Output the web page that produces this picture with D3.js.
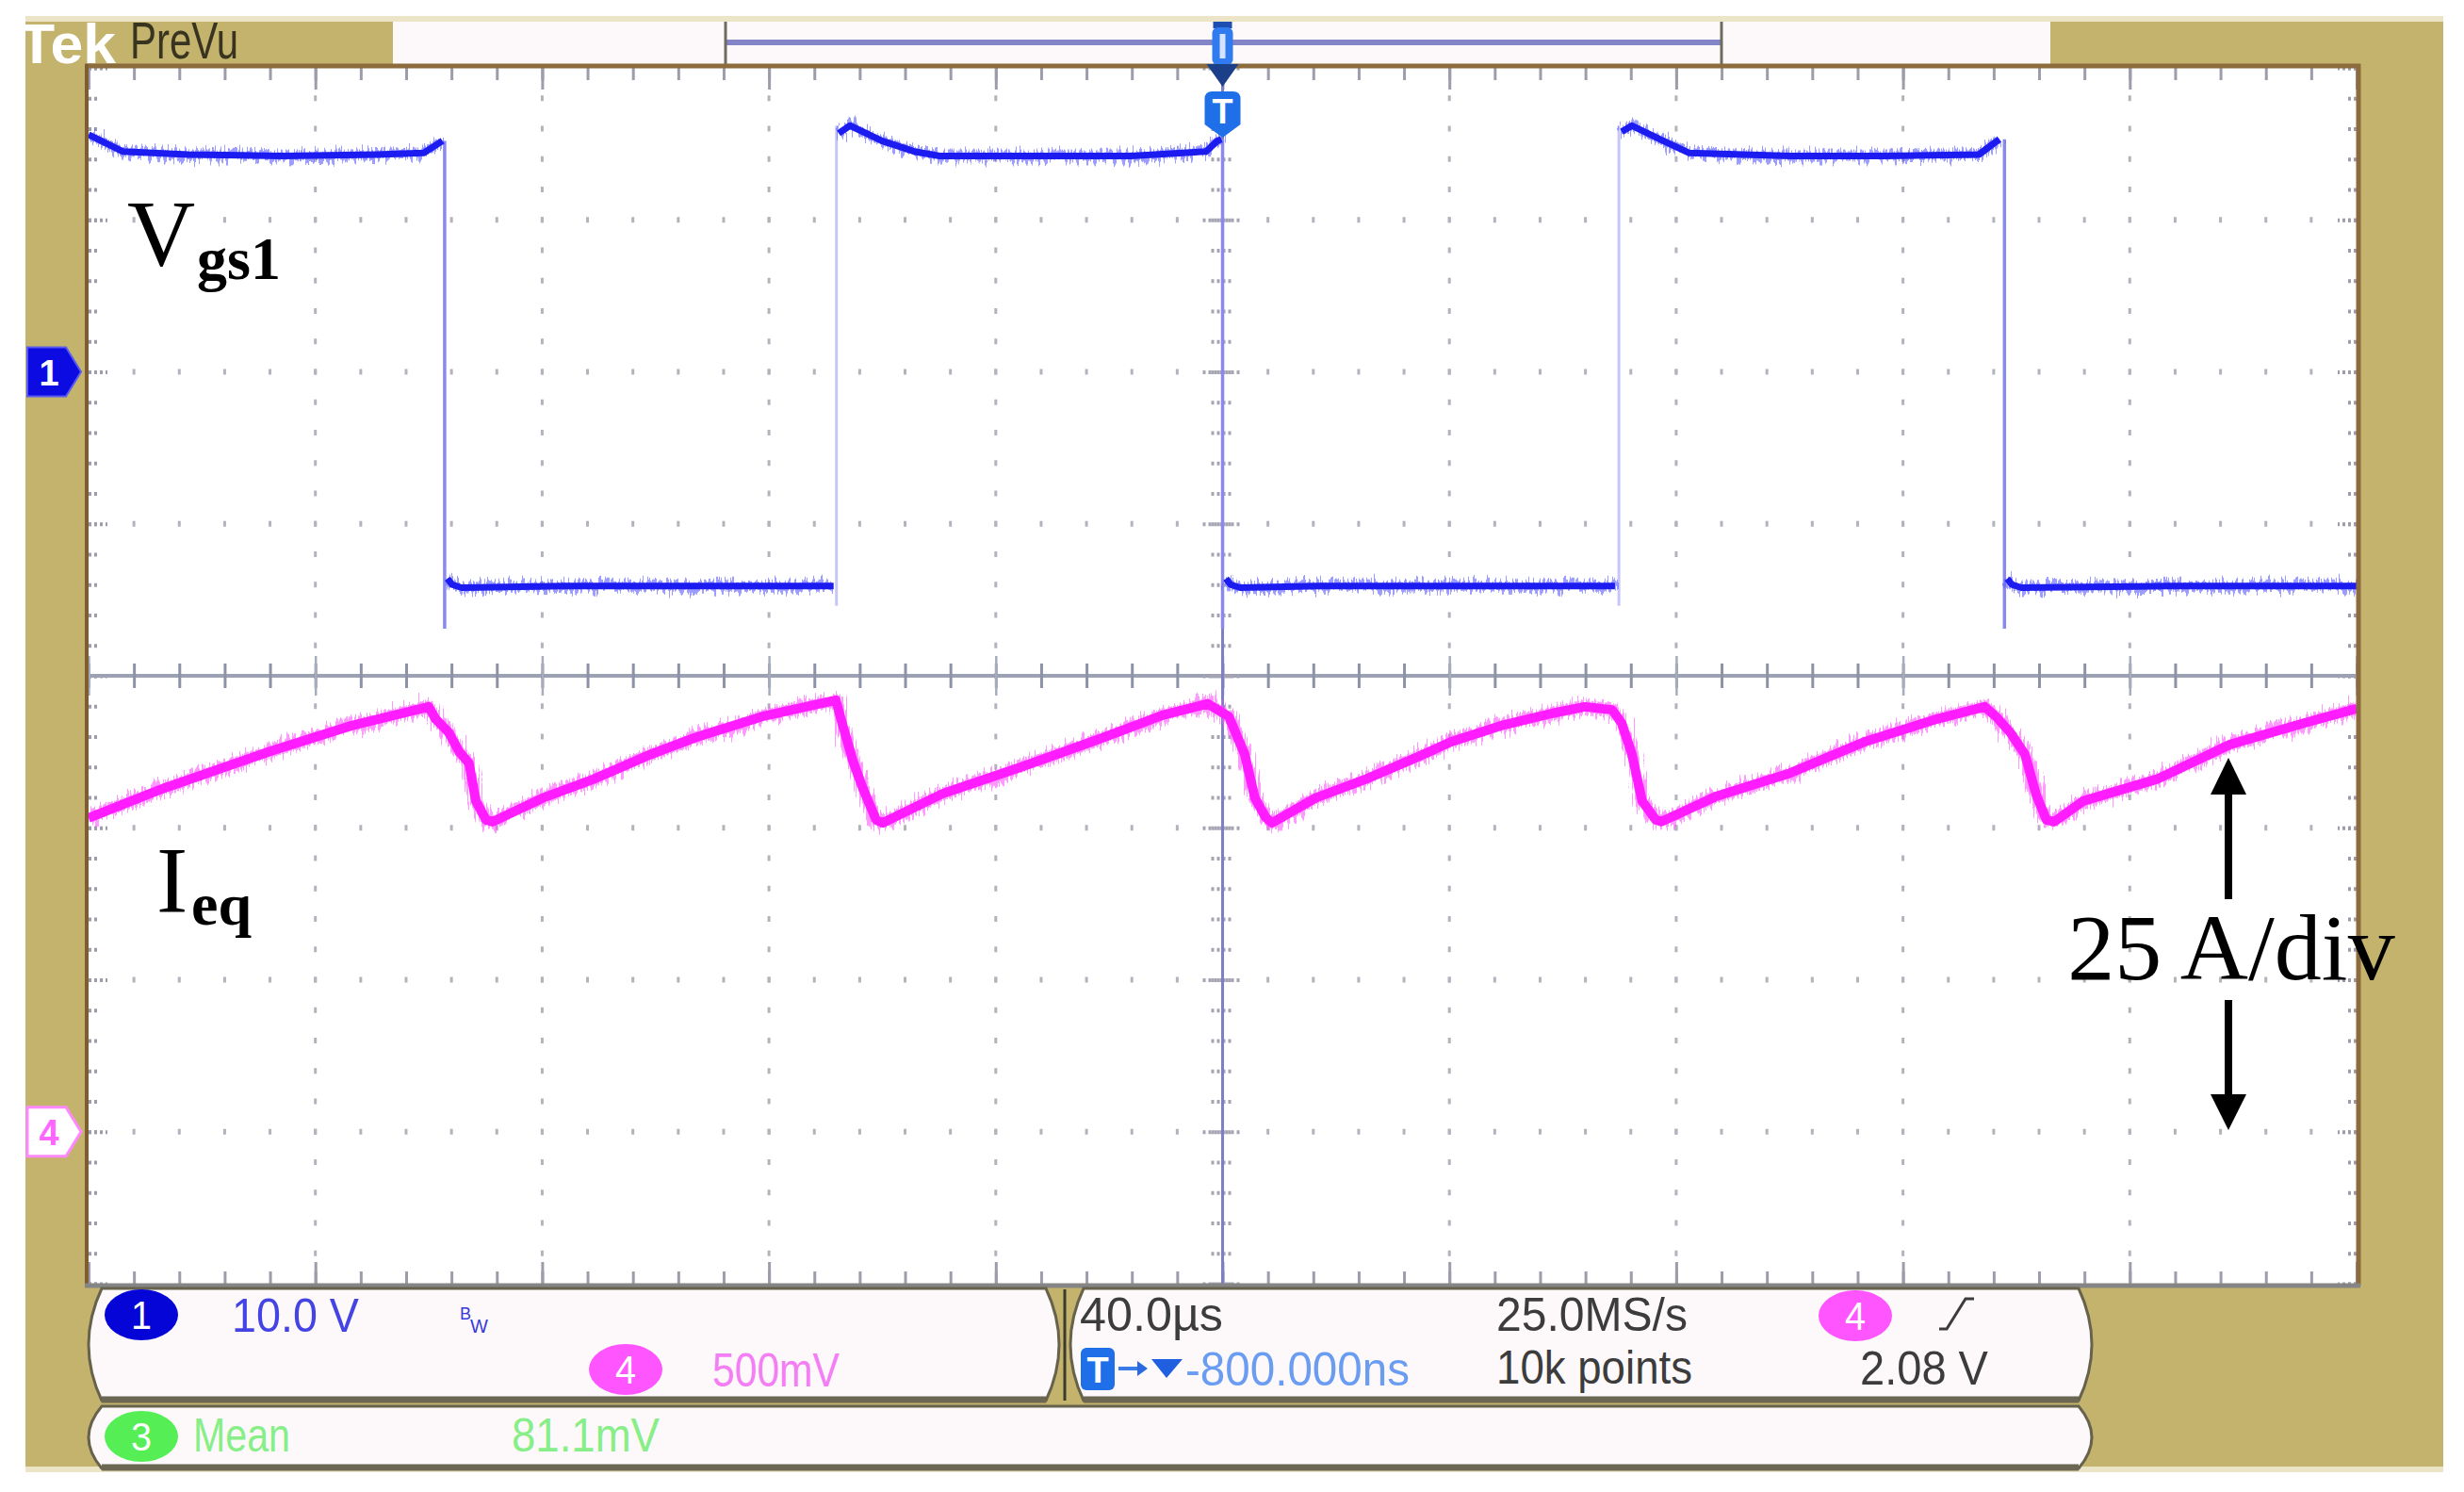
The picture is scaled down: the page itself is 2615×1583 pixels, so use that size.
<!DOCTYPE html>
<html><head><meta charset="utf-8">
<script src="https://cdn.jsdelivr.net/npm/d3@7"></script>
<style>body{margin:0;background:#fff}svg{display:block}</style>
</head><body><svg id="c" width="2615" height="1583"></svg>
<script>
// ---------------- data ----------------
const timePerDiv = 40;   // µs / div
const ch1PerDiv = 10;    // V / div
const ch4PerDiv = 25;    // A / div
const ch1Offset = 2;     // div
const ch4Offset = -3;    // div

// Vgs1 plateaus (µs, V); null = break at switching edge
const vgsTime  = [-200,-194,-182.4,-165.8,-149.2,-140.9,-138.4,-137.6, null,
                  -136.7,-135.9,-134.2,-115.9,-99.3,-82.7,-68.6, null,
                  -67.7,-65.7,-60.1,-54.4,-49.9,-32.8,-16.2,-2.9,-0.9,-0.2, null,
                  0.6,1.4,3.1,17.0,33.7,50.3,69.2, null,
                  70.4,72.2,77.7,82.3,100.1,116.7,133.4,135.9,137.0, null,
                  138.4,139.2,140.9,166.6,183.2,200];
const vgsVolts = [15.6,14.5,14.3,14.2,14.3,14.4,15.0,15.2, null,
                  -13.6,-14.0,-14.2,-14.1,-14.1,-14.1,-14.1, null,
                  15.7,16.2,15.2,14.5,14.2,14.2,14.2,14.5,15.2,15.3, null,
                  -13.6,-14.0,-14.2,-14.1,-14.1,-14.1,-14.1, null,
                  15.8,16.2,15.2,14.4,14.2,14.2,14.3,15.0,15.3, null,
                  -13.6,-14.0,-14.2,-14.1,-14.1,-14.1];
// Vgs1 switching edges
const edgeTime = [-137.2, -68.1, 0, 69.9, 137.9];
const edgeLow  = [-16.9, -15.4, -16.9, -15.4, -16.9];
const edgeHigh = [15.2, 16.2, 15.3, 16.2, 15.3];
const edgeDir  = ['fall','rise','fall','rise','fall'];

// Ieq (µs, A)
const ieqTime = [-200,-187.0,-167.9,-153.6,-140.0,-138.8,-136.5,-134.7,-132.9,-131.7,-129.9,-128.7,
  -119.9,-110.9,-100.8,-93.1,-81.2,-73.5,-68.2,-67.1,-65.2,-63.4,-61.1,-59.9,
  -49.4,-35.5,-21.7,-10.6,-2.6,1.1,3.9,5.7,7.6,8.7,
  16.4,25.3,34.3,40.2,49.1,58.0,63.9,68.7,70.4,72.2,74.0,76.4,77.4,
  86.9,100.1,113.1,126.0,134.4,136.4,138.9,141.5,143.5,145.3,146.7,
  151.8,164.8,177.7,190.7,200];
const ieqAmps = [51.6,56.4,62.6,66.8,69.9,67.9,65.7,62.6,60.6,54.4,51.3,51.0,
  54.9,58.0,62.1,64.8,68.3,69.9,71.0,67.2,61.0,56.4,51.3,50.8,
  55.6,60.0,64.6,68.5,70.4,68.3,62.1,54.9,51.7,50.8,
  54.9,58.0,61.6,64.1,66.8,68.8,69.9,69.4,67.2,62.1,54.4,51.3,51.0,
  55.1,59.0,64.1,67.9,69.9,68.3,65.7,62.1,55.4,51.3,51.0,
  54.4,58.0,63.7,67.2,69.6];

// texts
const headerTexts = ['Tek', 'PreVu'];
const traceLabels = ['V', 'gs1', 'I', 'eq'];
const scaleLabel = '25 A/div';
const ch1Readout = ['1', '10.0 V'];
const ch4Readout = ['4', '500mV'];
const measReadout = ['3', 'Mean', '81.1mV'];
const timeReadout = ['40.0µs', '25.0MS/s', '-800.000ns', '10k points'];
const trigReadout = ['4', '2.08 V'];

// ---------------- layout ----------------
const svg = d3.select('#c');
const P = {l:94, r:2501, t:72, b:1362};
const SANS = "'Liberation Sans', Arial, sans-serif";
const SERIF = "'Liberation Serif', 'Times New Roman', serif";

const x = d3.scaleLinear().domain([-5*timePerDiv, 5*timePerDiv]).range([P.l, P.r]);
const yDiv = d3.scaleLinear().domain([-4, 4]).range([P.b, P.t]);
const yCh1 = d3.scaleLinear().domain([(-4-ch1Offset)*ch1PerDiv, (4-ch1Offset)*ch1PerDiv]).range([P.b, P.t]);
const yCh4 = d3.scaleLinear().domain([(-4-ch4Offset)*ch4PerDiv, (4-ch4Offset)*ch4PerDiv]).range([P.b, P.t]);

function txt(g, xx, yy, s, o) {
  const t = g.append('text').attr('x', xx).attr('y', yy).text(s)
    .attr('font-family', o.family || SANS).attr('font-size', o.size)
    .attr('fill', o.fill || '#000');
  if (o.weight) t.attr('font-weight', o.weight);
  if (o.anchor) t.attr('text-anchor', o.anchor);
  if (o.len) t.attr('textLength', o.len).attr('lengthAdjust', 'spacingAndGlyphs');
  return t;
}

// outer tan frame
svg.append('rect').attr('x',27).attr('y',18).attr('width',2566).attr('height',1543).attr('fill','#c4b36d');
svg.append('rect').attr('x',27).attr('y',17).attr('width',2566).attr('height',6).attr('fill','#ece4c6');
svg.append('rect').attr('x',27).attr('y',1556).attr('width',2566).attr('height',6).attr('fill','#ece4c6');

// defs
const defs = svg.append('defs');
defs.append('clipPath').attr('id','tanclip').append('rect').attr('x',27).attr('y',18).attr('width',400).attr('height',60);
defs.append('clipPath').attr('id','plotclip').append('rect').attr('x',P.l).attr('y',P.t).attr('width',P.r-P.l).attr('height',P.b-P.t);
const fz = defs.append('filter').attr('id','fuzz').attr('x','-2%').attr('y','-30%').attr('width','104%').attr('height','160%');
fz.append('feTurbulence').attr('type','fractalNoise').attr('baseFrequency','0.5 0.02').attr('numOctaves',2).attr('seed',3).attr('result','n');
fz.append('feDisplacementMap').attr('in','SourceGraphic').attr('in2','n').attr('scale',24).attr('xChannelSelector','R').attr('yChannelSelector','G');

// header
txt(svg.append('g').attr('clip-path','url(#tanclip)'), 20, 67, headerTexts[0], {size:60, weight:'bold', fill:'#ffffff', len:103});
txt(svg, 138, 62, headerTexts[1], {size:56, fill:'#39341f', len:115});
svg.append('rect').attr('x',417).attr('y',23).attr('width',1759).attr('height',46).attr('fill','#fdf9fb');
svg.append('line').attr('x1',770).attr('x2',1827).attr('y1',45).attr('y2',45).attr('stroke','#8484c8').attr('stroke-width',6);
[770,1827].forEach(bx => svg.append('line').attr('x1',bx).attr('x2',bx).attr('y1',23).attr('y2',69).attr('stroke','#6d6c5e').attr('stroke-width',3));

// plot area
svg.append('rect').attr('x',P.l).attr('y',P.t).attr('width',P.r-P.l).attr('height',P.b-P.t).attr('fill','#ffffff');

// grid dots
const grid = svg.append('g');
const minorT = d3.range(-5*timePerDiv, 5*timePerDiv + 0.01, timePerDiv/5);
const minorD = d3.range(-4, 4.001, 0.2);
const majorT = d3.range(-4*timePerDiv, 4*timePerDiv + 0.01, timePerDiv).filter(v => Math.abs(v) > 1e-6);
const majorD = d3.range(-3, 3.001, 1).filter(v => Math.abs(v) > 1e-6);
const dots = [];
majorT.forEach(t => minorD.slice(1,-1).forEach(d => dots.push([x(t), yDiv(d)])));
majorD.forEach(d => minorT.slice(1,-1).forEach(t => dots.push([x(t), yDiv(d)])));
grid.selectAll('rect.dot').data(dots).enter().append('rect').attr('class','dot')
  .attr('x', d => d[0]-1.5).attr('y', d => d[1]-3).attr('width',3).attr('height',6).attr('fill','#b3b3bd');

// edge ticks via axes
function styleAxis(g, color, w, dash) {
  g.select('.domain').remove();
  g.selectAll('line').attr('stroke', color).attr('stroke-width', w);
  if (dash) g.selectAll('line').attr('stroke-dasharray', dash);
  g.selectAll('text').remove();
}
const tickCol = '#9c9cab';
const majorTall = d3.range(-5*timePerDiv, 5*timePerDiv + 0.01, timePerDiv);
const majorDall = d3.range(-4, 4.001, 1);
svg.append('g').attr('transform',`translate(0,${P.t})`).call(d3.axisBottom(x).tickValues(minorT).tickSize(13).tickFormat('')).call(styleAxis, tickCol, 3);
svg.append('g').attr('transform',`translate(0,${P.t})`).call(d3.axisBottom(x).tickValues(majorTall).tickSize(23).tickFormat('')).call(styleAxis, tickCol, 3);
svg.append('g').attr('transform',`translate(0,${P.b})`).call(d3.axisTop(x).tickValues(minorT).tickSize(13).tickFormat('')).call(styleAxis, tickCol, 3);
svg.append('g').attr('transform',`translate(0,${P.b})`).call(d3.axisTop(x).tickValues(majorTall).tickSize(23).tickFormat('')).call(styleAxis, tickCol, 3);
svg.append('g').attr('transform',`translate(${P.l},0)`).call(d3.axisRight(yDiv).tickValues(minorD).tickSize(11).tickFormat('')).call(styleAxis, tickCol, 4, '3,3');
svg.append('g').attr('transform',`translate(${P.l},0)`).call(d3.axisRight(yDiv).tickValues(majorDall).tickSize(20).tickFormat('')).call(styleAxis, tickCol, 4, '3,3');
svg.append('g').attr('transform',`translate(${P.r},0)`).call(d3.axisLeft(yDiv).tickValues(minorD).tickSize(11).tickFormat('')).call(styleAxis, tickCol, 4, '3,3');
svg.append('g').attr('transform',`translate(${P.r},0)`).call(d3.axisLeft(yDiv).tickValues(majorDall).tickSize(20).tickFormat('')).call(styleAxis, tickCol, 4, '3,3');

// center horizontal line with ticks
svg.append('line').attr('x1',P.l).attr('x2',P.r).attr('y1',yDiv(0)).attr('y2',yDiv(0)).attr('stroke','#9ca1b3').attr('stroke-width',4);
svg.append('g').attr('transform',`translate(0,${yDiv(0)-13})`).call(d3.axisBottom(x).tickValues(minorT).tickSize(26).tickFormat('')).call(styleAxis, '#8d92a6', 3);
svg.append('g').attr('transform',`translate(0,${yDiv(0)-21})`).call(d3.axisBottom(x).tickValues(majorTall).tickSize(42).tickFormat('')).call(styleAxis, '#a8adbd', 2.5);
// center vertical ticks
svg.append('g').attr('transform',`translate(${x(0)-12},0)`).call(d3.axisRight(yDiv).tickValues(minorD).tickSize(24).tickFormat('')).call(styleAxis, '#a4a4b2', 4, '3,3');
svg.append('g').attr('transform',`translate(${x(0)-21},0)`).call(d3.axisRight(yDiv).tickValues(majorDall).tickSize(42).tickFormat('')).call(styleAxis, '#a4a4b2', 4, '3,3');

// trigger position line
svg.append('line').attr('x1',x(0)).attr('x2',x(0)).attr('y1',P.t).attr('y2',P.b).attr('stroke','#7f7fc4').attr('stroke-width',3);

// traces
const tr = svg.append('g').attr('clip-path','url(#plotclip)');
const vgsPts = vgsTime.map((t,i) => [t, vgsVolts[i]]);
const vLine = d3.line().defined(d => d[0] !== null).x(d => x(d[0])).y(d => yCh1(d[1]));
edgeTime.forEach((t,i) => {
  tr.append('line').attr('x1',x(t)).attr('x2',x(t)).attr('y1',yCh1(edgeHigh[i])).attr('y2',yCh1(edgeLow[i]))
    .attr('stroke', edgeDir[i]==='fall' ? '#8a8aee' : '#c6c6fa').attr('stroke-width', edgeDir[i]==='fall' ? 3.5 : 3);
});
tr.append('path').attr('d', vLine(vgsPts)).attr('fill','none').attr('stroke','#5a5aff').attr('stroke-opacity',0.6).attr('stroke-width',10).attr('stroke-linejoin','round').attr('filter','url(#fuzz)');
tr.append('path').attr('d', vLine(vgsPts)).attr('fill','none').attr('stroke','#1c1cf0').attr('stroke-width',7).attr('stroke-linejoin','round');

const ieqPts = ieqTime.map((t,i) => [t, ieqAmps[i]]);
const iLine = d3.line().x(d => x(d[0])).y(d => yCh4(d[1]));
tr.append('path').attr('d', iLine(ieqPts)).attr('fill','none').attr('stroke','#ff55ff').attr('stroke-opacity',0.6).attr('stroke-width',14).attr('stroke-linejoin','round').attr('filter','url(#fuzz)');
tr.append('path').attr('d', iLine(ieqPts)).attr('fill','none').attr('stroke','#ff1cff').attr('stroke-width',10).attr('stroke-linejoin','round');

// plot frame
svg.append('line').attr('x1',P.l-4).attr('x2',P.r+4).attr('y1',P.t-2).attr('y2',P.t-2).attr('stroke','#8c6b3c').attr('stroke-width',5);
svg.append('line').attr('x1',P.l-2).attr('x2',P.l-2).attr('y1',P.t-4).attr('y2',P.b+2).attr('stroke','#7d5d31').attr('stroke-width',4);
svg.append('line').attr('x1',P.r+2).attr('x2',P.r+2).attr('y1',P.t-4).attr('y2',P.b+2).attr('stroke','#8c6b3c').attr('stroke-width',5);
svg.append('line').attr('x1',P.l-4).attr('x2',P.r+4).attr('y1',P.b+2).attr('y2',P.b+2).attr('stroke','#858585').attr('stroke-width',5);

// trigger markers at top
const tx = x(0);
svg.append('rect').attr('x',tx-10).attr('y',23).attr('width',20).attr('height',7).attr('fill','#1d4fb0');
svg.append('rect').attr('x',tx-11).attr('y',29).attr('width',22).attr('height',40).attr('rx',6).attr('fill','#2f7bef');
svg.append('rect').attr('x',tx-3).attr('y',36).attr('width',6).attr('height',26).attr('fill','#d4e3ff');
svg.append('path').attr('d',`M${tx-17},68 L${tx+17},68 L${tx},92 Z`).attr('fill','#1c3f8a');
svg.append('path').attr('d',`M${tx-19},105 Q${tx-19},97 ${tx-11},97 L${tx+11},97 Q${tx+19},97 ${tx+19},105 L${tx+19},132 L${tx},146 L${tx-19},132 Z`).attr('fill','#1f6fe8');
txt(svg, tx, 131, 'T', {size:36, weight:'bold', fill:'#ffffff', anchor:'middle'});

// channel ground markers
const m1 = yCh1(0), m4 = yCh4(0);
svg.append('path').attr('d',`M29,${m1-26} L70,${m1-26} L86,${m1} L70,${m1+26} L29,${m1+26} Z`).attr('fill','#0b0be2').attr('stroke','#5a5af2').attr('stroke-width',2);
txt(svg, 52, m1+14, '1', {size:38, weight:'bold', fill:'#ffffff', anchor:'middle'});
svg.append('path').attr('d',`M29,${m4-26} L70,${m4-26} L86,${m4} L70,${m4+26} L29,${m4+26} Z`).attr('fill','#ffffff').attr('stroke','#ff88ff').attr('stroke-width',3);
txt(svg, 52, m4+14, '4', {size:38, weight:'bold', fill:'#ff66ff', anchor:'middle'});

// trace labels
txt(svg, 135, 281, traceLabels[0], {size:100, family:SERIF});
txt(svg, 209, 296, traceLabels[1], {size:64, family:SERIF, weight:'bold'});
txt(svg, 166, 967, traceLabels[2], {size:100, family:SERIF});
txt(svg, 203, 981, traceLabels[3], {size:64, family:SERIF, weight:'bold'});

// 25 A/div annotation
const ax = 2365;
txt(svg, 2368, 1039, scaleLabel, {size:100, family:SERIF, anchor:'middle'});
svg.append('line').attr('x1',ax).attr('x2',ax).attr('y1',836).attr('y2',954).attr('stroke','#000').attr('stroke-width',8);
svg.append('path').attr('d',`M${ax},804 L${ax+19},843 L${ax-19},843 Z`).attr('fill','#000');
svg.append('line').attr('x1',ax).attr('x2',ax).attr('y1',1061).attr('y2',1168).attr('stroke','#000').attr('stroke-width',8);
svg.append('path').attr('d',`M${ax},1199 L${ax+19},1161 L${ax-19},1161 Z`).attr('fill','#000');

// readout panels
function panel(x0, x1, y0, y1) {
  const d = 14, ym = (y0+y1)/2;
  svg.append('path').attr('d',`M${x0+d},${y0} L${x1-d},${y0} Q${x1+d},${ym} ${x1-d},${y1} L${x0+d},${y1} Q${x0-d},${ym} ${x0+d},${y0} Z`)
    .attr('fill','#fdf9fb').attr('stroke','#67624c').attr('stroke-width',3);
  svg.append('line').attr('x1',x0+d).attr('x2',x1-d).attr('y1',y1-1).attr('y2',y1-1).attr('stroke','#6c6753').attr('stroke-width',7);
}
panel(94, 1124, 1367, 1486);
panel(1136, 2220, 1367, 1486);
panel(94, 2220, 1492, 1558);
svg.append('line').attr('x1',1130).attr('x2',1130).attr('y1',1368).attr('y2',1486).attr('stroke','#3c3a2c').attr('stroke-width',3);

function badge(cx, cy, fill, label) {
  svg.append('ellipse').attr('cx',cx).attr('cy',cy).attr('rx',39).attr('ry',27).attr('fill',fill);
  txt(svg, cx, cy+15, label, {size:42, fill:'#ffffff', anchor:'middle', len: 22});
}
badge(150, 1395, '#0505d8', ch1Readout[0]);
txt(svg, 246, 1413, ch1Readout[1], {size:50, fill:'#4444e4', len:135});
txt(svg, 488, 1400, 'B', {size:18, fill:'#3a3ad8'});
txt(svg, 499, 1414, 'W', {size:20, fill:'#3a3ad8'});
badge(664, 1453, '#ff55ff', ch4Readout[0]);
txt(svg, 756, 1471, ch4Readout[1], {size:50, fill:'#f47ef4', len:135});

badge(150, 1524, '#55ee55', measReadout[0]);
txt(svg, 205, 1540, measReadout[1], {size:50, fill:'#88ee88', len:103});
txt(svg, 543, 1540, measReadout[2], {size:50, fill:'#88ee88', len:157});

txt(svg, 1146, 1412, timeReadout[0], {size:50, fill:'#3c3c3c', len:152});
txt(svg, 1588, 1412, timeReadout[1], {size:50, fill:'#3c3c3c', len:203});
svg.append('rect').attr('x',1147).attr('y',1430).attr('width',36).attr('height',45).attr('rx',6).attr('fill','#1f6fe8');
txt(svg, 1165, 1467, 'T', {size:38, weight:'bold', fill:'#ffffff', anchor:'middle'});
svg.append('line').attr('x1',1187).attr('x2',1210).attr('y1',1452).attr('y2',1452).attr('stroke','#3b7be8').attr('stroke-width',4);
svg.append('path').attr('d','M1207,1444 L1218,1452 L1207,1460 Z').attr('fill','#2a6ae0');
svg.append('path').attr('d','M1222,1442 L1255,1442 L1238,1462 Z').attr('fill','#2060e0');
txt(svg, 1258, 1470, timeReadout[2], {size:50, fill:'#6a9cf2', len:238});
txt(svg, 1588, 1468, timeReadout[3], {size:50, fill:'#3c3c3c', len:208});
badge(1969, 1396, '#ff55ff', trigReadout[0]);
svg.append('path').attr('d','M2058,1410 L2066,1410 L2086,1378 L2095,1378').attr('fill','none').attr('stroke','#3c3c3c').attr('stroke-width',3);
txt(svg, 1974, 1469, trigReadout[1], {size:50, fill:'#3c3c3c', len:136});
</script></body></html>
